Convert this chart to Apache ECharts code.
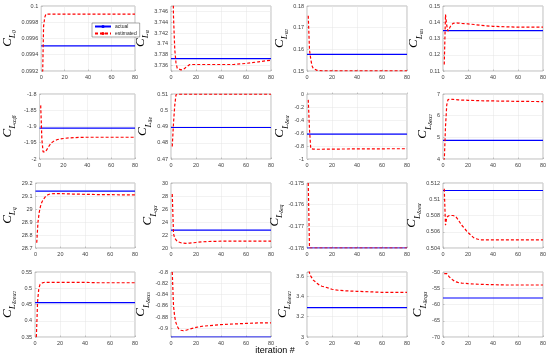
<!DOCTYPE html>
<html><head><meta charset="utf-8">
<script src="https://cdn.jsdelivr.net/npm/echarts@6/dist/echarts.min.js"></script>
<style>html,body{margin:0;padding:0;background:#fff}#c{width:550px;height:361px}</style>
</head><body><div id="c"></div>
<script>
// shared iteration samples for the estimated curves
const iterations = [1,2,3,4,5,6,8,10,12,15,20,25,30,40,50,60,70,80];
const xTicks = [0,20,40,60,80];

// y-axis titles (rich text markup)
const paramNames = [
  '{c|C}{l|L}{s|0}', '{c|C}{l|L}{s|α}', '{c|C}{l|L}{s|α}{p|2}', '{c|C}{l|L}{s|α}{p|3}',
  '{c|C}{l|L}{s|α}{p|2}{s|β}', '{c|C}{l|L}{s|δe}', '{c|C}{l|L}{s|δeα}', '{c|C}{l|L}{s|δeα}{p|2}',
  '{c|C}{l|L}{s|q}', '{c|C}{l|L}{s|qα}', '{c|C}{l|L}{s|δeq}', '{c|C}{l|L}{s|δ}{p|2}{s|eα}',
  '{c|C}{l|L}{s|δ}{p|2}{s|eα}{p|2}', '{c|C}{l|L}{s|δeα}{p|3}', '{c|C}{l|L}{s|δ}{p|3}{s|eα}{p|2}', '{c|C}{l|L}{s|δeqα}'
];

// actual parameter values
const actualValues = [
  0.09951, 3.7373, 0.1577, 0.1348,
  -1.905, 0.4894, -0.616, 4.86,
  29.138, 22.75, -0.178, 0.51108,
  0.456, -0.915, 3.29, -58
];

// estimated values at the iterations above
const est00 = [0.0990,0.09975,0.09986,0.0999,0.0999,0.0999,0.0999,0.0999,0.0999,0.0999,0.0999,0.0999,0.0999,0.0999,0.0999,0.0999,0.0999,0.0999];
const est01 = [3.760,3.745,3.739,3.7365,3.7355,3.7352,3.7352,3.7353,3.7357,3.7362,3.7362,3.7362,3.7362,3.7362,3.7362,3.7364,3.7367,3.737];
const est02 = [0.1755,0.1597,0.1555,0.1524,0.1512,0.1507,0.1503,0.1502,0.1501,0.1501,0.1501,0.1501,0.1501,0.1501,0.1501,0.1501,0.1501,0.1501];
const est03 = [0.114,0.1448,0.138,0.1345,0.136,0.1375,0.1393,0.1396,0.1395,0.1393,0.139,0.1386,0.1381,0.1375,0.1372,0.137,0.137,0.137];
const est10 = [-1.835,-1.94,-1.978,-1.982,-1.978,-1.972,-1.96,-1.95,-1.945,-1.94,-1.937,-1.935,-1.934,-1.933,-1.933,-1.933,-1.933,-1.933];
const est11 = [0.4777,0.492,0.503,0.5095,0.5099,0.5099,0.5099,0.5099,0.5099,0.5099,0.5099,0.5099,0.5099,0.5099,0.5099,0.5099,0.5099,0.5099];
const est12 = [-0.09,-0.55,-0.84,-0.845,-0.848,-0.849,-0.85,-0.85,-0.85,-0.849,-0.848,-0.847,-0.846,-0.845,-0.844,-0.843,-0.842,-0.842];
const est13 = [3.9,5.5,6.5,6.74,6.76,6.76,6.75,6.74,6.73,6.72,6.71,6.70,6.69,6.68,6.67,6.66,6.655,6.65];
const est20 = [28.74,28.9,28.975,29.02,29.05,29.07,29.095,29.11,29.117,29.118,29.118,29.117,29.115,29.113,29.111,29.11,29.109,29.108];
const est21 = [28.3,22.2,21.5,21.2,21.0,20.9,20.8,20.75,20.72,20.75,20.85,20.95,21.0,21.05,21.05,21.05,21.05,21.05];
const est22 = [-0.175,-0.178,-0.178,-0.178,-0.178,-0.178,-0.178,-0.178,-0.178,-0.178,-0.178,-0.178,-0.178,-0.178,-0.178,-0.178,-0.178,-0.178];
const est23 = [0.5113,0.5068,0.5078,0.508,0.508,0.508,0.508,0.5079,0.5075,0.5068,0.5059,0.5052,0.505,0.505,0.505,0.505,0.505,0.505];
const est30 = [0.35,0.46,0.50,0.512,0.516,0.517,0.518,0.518,0.518,0.518,0.518,0.518,0.518,0.518,0.517,0.517,0.517,0.517];
const est31 = [-0.8,-0.86,-0.88,-0.89,-0.896,-0.9,-0.903,-0.904,-0.903,-0.901,-0.898,-0.896,-0.895,-0.893,-0.892,-0.891,-0.89,-0.89];
const est32 = [3.7,3.63,3.6,3.58,3.56,3.55,3.53,3.51,3.5,3.49,3.47,3.46,3.455,3.45,3.445,3.44,3.44,3.44];
const est33 = [-50.5,-50.2,-50.5,-51,-51.5,-52,-52.5,-53,-53.2,-53.4,-53.6,-53.7,-53.8,-53.9,-54,-54,-54,-54];
const estimates = [est00,est01,est02,est03,est10,est11,est12,est13,est20,est21,est22,est23,est30,est31,est32,est33];

// y-axis ranges / tick steps
const yMin  = [0.0992, 3.735, 0.15, 0.11, -2, 0.47, -1, 4, 28.7, 20, -0.178, 0.504, 0.35, -0.915, 3.0, -70];
const yMax  = [0.1, 3.747, 0.18, 0.15, -1.8, 0.51, 0, 7, 29.2, 30, -0.175, 0.512, 0.55, -0.8, 3.64, -50];
const yStep = [0.0002, 0.002, 0.01, 0.01, 0.05, 0.01, 0.2, 1, 0.1, 2, 0.001, 0.002, 0.05, 0.02, 0.2, 5];

const colLeft = [35, 171, 307, 443];
const rowTop = [6, 94, 183, 272];
const nameGaps = [23,20,17,19, 22,18,17,10, 18,12,22,21, 17,20,12,15];

const grids = [], xAxes = [], yAxes = [], series = [];
const rich = {
  c: {fontFamily: 'Liberation Serif', fontStyle: 'italic', fontSize: 13, lineHeight: 20, verticalAlign: 'middle', color: '#000'},
  l: {fontFamily: 'Liberation Serif', fontStyle: 'italic', fontSize: 9, lineHeight: 14, verticalAlign: 'bottom', color: '#000'},
  s: {fontFamily: 'Liberation Serif', fontStyle: 'italic', fontSize: 6, lineHeight: 6, verticalAlign: 'bottom', color: '#000'},
  p: {fontFamily: 'Liberation Serif', fontStyle: 'italic', fontSize: 4.5, lineHeight: 12, verticalAlign: 'bottom', color: '#000'}
};
const onStep = (v, step) => Math.abs(v / step - Math.round(v / step)) < 1e-6;
for (let i = 0; i < 16; i++) {
  const r = Math.floor(i / 4), c = i % 4;
  grids.push({left: colLeft[c], top: rowTop[r], width: 100, height: 65, show: true,
    borderColor: '#909090', borderWidth: 0.6, backgroundColor: '#fff'});
  xAxes.push({type: 'value', gridIndex: i, min: xTicks[0], max: xTicks[xTicks.length-1], interval: 20,
    axisLine: {show: false}, axisTick: {show: true, inside: true, length: 1.5, lineStyle: {color: '#909090', width: 0.5}},
    axisLabel: {fontSize: 5.5, color: '#404040', margin: 3, fontFamily: 'Liberation Sans'},
    splitLine: {show: true, lineStyle: {color: '#e4e4e4', width: 0.5}}});
  const step = yStep[i];
  yAxes.push({type: 'value', gridIndex: i, min: yMin[i], max: yMax[i], minInterval: step, maxInterval: step, splitNumber: 5,
    name: paramNames[i], nameLocation: 'middle', nameRotate: 90, nameGap: nameGaps[i],
    nameTextStyle: {rich: rich},
    axisLine: {show: false}, axisTick: {show: true, inside: true, length: 1.5, lineStyle: {color: '#909090', width: 0.5}},
    axisLabel: {fontSize: 5.5, color: '#404040', margin: 3, fontFamily: 'Liberation Sans',
      formatter: v => onStep(v, step) ? String(+v.toFixed(6)) : ''},
    splitLine: {show: true, lineStyle: {color: '#e4e4e4', width: 0.5}}});
  series.push({type: 'line', name: 'actual', xAxisIndex: i, yAxisIndex: i, showSymbol: false, symbol: 'none',
    data: [[xTicks[0], actualValues[i]], [xTicks[xTicks.length-1], actualValues[i]]],
    lineStyle: {color: '#0000ff', width: 1.2}, itemStyle: {color: '#0000ff'}, z: 2, animation: false});
  series.push({type: 'line', name: 'estimated', xAxisIndex: i, yAxisIndex: i, showSymbol: false, symbol: 'none',
    data: iterations.map((t, k) => [t, estimates[i][k]]),
    lineStyle: {color: '#ff0000', width: 1.2, type: [3, 2]}, itemStyle: {color: '#ff0000'}, z: 3, animation: false});
}

const chart = echarts.init(document.getElementById('c'), null, {renderer: 'canvas'});
chart.setOption({
  animation: false,
  backgroundColor: '#fff',
  grid: grids, xAxis: xAxes, yAxis: yAxes, series: series,
  legend: {data: ['actual', 'estimated'], orient: 'vertical', left: 92, top: 23,
    itemWidth: 16, itemHeight: 4, itemGap: 2, padding: [1, 3, 1, 2],
    borderColor: '#555', borderWidth: 0.5, backgroundColor: '#fff',
    textStyle: {fontSize: 5, color: '#222', fontFamily: 'Liberation Sans', padding: [0,0,0,-1]}},
  graphic: [{type: 'text', left: 'center', top: 346,
    style: {text: 'iteration #', fontSize: 9, fill: '#000', fontFamily: 'Liberation Sans'}}]
});
</script></body></html>
